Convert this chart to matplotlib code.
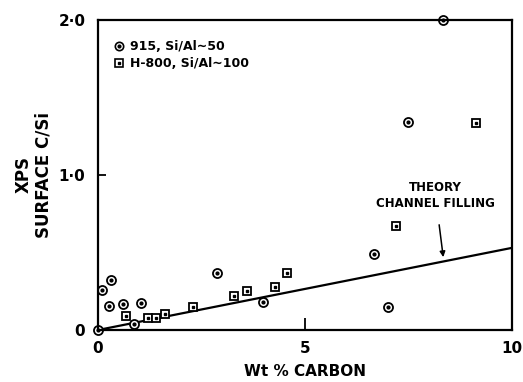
import numpy as np
import matplotlib.pyplot as plt

plt.rcParams['font.family'] = ['DejaVu Sans']
plt.rcParams['font.weight'] = 'bold'

# 915, Si/Al ~ 50 (circles)
x_915 = [0.0, 0.11, 0.31, 0.27, 0.60, 1.05, 0.87, 2.88, 4.00, 6.66, 7.00, 7.48, 8.34]
y_915 = [0.0, 0.26, 0.32, 0.157, 0.168, 0.176, 0.037, 0.366, 0.18, 0.49, 0.15, 1.344, 2.0]

# H-800, Si/Al ~ 100 (squares)
x_h800 = [0.67, 1.21, 1.40, 1.62, 2.30, 3.29, 3.60, 4.29, 4.56, 7.20, 9.12]
y_h800 = [0.092, 0.077, 0.08, 0.103, 0.15, 0.22, 0.25, 0.275, 0.366, 0.67, 1.337]

# theory line, channel filling
x_theory = [0, 10]
y_theory = [0, 0.53]

fig = plt.figure(figsize=(5.23, 3.82), dpi=100)
ax = fig.add_axes([0.187, 0.136, 0.792, 0.812])

ax.plot(x_theory, y_theory, color='black', lw=1.6)

ax.plot(x_915, y_915, 'o', ms=6.5, mfc='white', mec='black', mew=1.3, clip_on=False)
ax.plot(x_915, y_915, 'o', ms=2, color='black', clip_on=False)
ax.plot(x_h800, y_h800, 's', ms=6, mfc='white', mec='black', mew=1.3, clip_on=False)
ax.plot(x_h800, y_h800, 's', ms=2, color='black', clip_on=False)

ax.annotate('THEORY\nCHANNEL FILLING', xy=(8.34, 0.47), xytext=(8.15, 0.87),
            ha='center', va='center', fontsize=8.5, fontweight='bold', linespacing=1.3,
            arrowprops=dict(arrowstyle='-|>', color='black', lw=1.1, mutation_scale=8,
                            shrinkA=9, shrinkB=0))

# legend drawn as text with markers
ax.plot([0.5], [1.83], 'o', ms=6, mfc='white', mec='black', mew=1.2)
ax.plot([0.5], [1.83], 'o', ms=2, color='black')
ax.plot([0.5], [1.72], 's', ms=5.5, mfc='white', mec='black', mew=1.2)
ax.plot([0.5], [1.72], 's', ms=2, color='black')
ax.text(0.78, 1.83, '915, Si/Al\u223c50', va='center', fontsize=9, fontweight='bold')
ax.text(0.78, 1.72, 'H-800, Si/Al\u223c100', va='center', fontsize=9, fontweight='bold')

ax.set_xlim(0, 10)
ax.set_ylim(0, 2.0)
ax.set_xticks([0, 5, 10])
ax.set_xticklabels(['0', '5', '10'])
ax.set_yticks([0, 1.0, 2.0])
ax.set_yticklabels(['0', '1\u00b70', '2\u00b70'])
ax.tick_params(axis='x', direction='in', length=9, width=1.3, labelsize=11, pad=8)
ax.tick_params(axis='y', direction='in', length=6, width=1.3, labelsize=11, pad=9)
for lab in ax.get_xticklabels() + ax.get_yticklabels():
    lab.set_fontweight('bold')

for s in ax.spines.values():
    s.set_linewidth(1.6)

ax.set_xlabel('Wt % CARBON', fontsize=11, fontweight='bold', labelpad=6)
ax.set_ylabel('XPS\nSURFACE C/Si', fontsize=12, fontweight='bold', linespacing=1.15,
              va='center', ha='center')
ax.yaxis.set_label_coords(-0.155, 0.5)

fig.savefig('out.png', dpi=100)
